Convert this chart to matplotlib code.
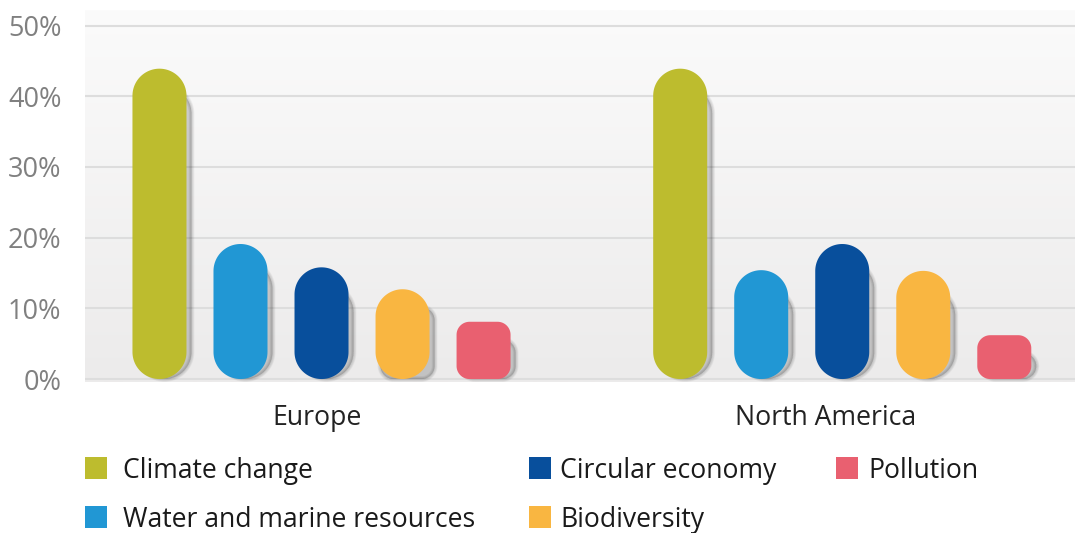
import numpy as np
import matplotlib
matplotlib.use("Agg")
import matplotlib.pyplot as plt
from matplotlib.patches import Polygon, Rectangle
from matplotlib.colors import LinearSegmentedColormap
from matplotlib import transforms

# ---- data -------------------------------------------------------------
regions = ["Europe", "North America"]
topics = ["Climate change", "Water and marine resources", "Circular economy",
          "Biodiversity", "Pollution"]
europe = [43.9, 19.1, 15.8, 12.7, 8.1]
north_america = [43.9, 15.4, 19.1, 15.3, 6.2]
colors = ["#BDBC2E", "#2197D4", "#084F9C", "#F9B641", "#E96070"]
yticks = [0, 10, 20, 30, 40, 50]
ytick_labels = ["0%", "10%", "20%", "30%", "40%", "50%"]

plt.rcParams["font.family"] = ["Open Sans", "DejaVu Sans"]

W, H = 1075, 533
fig = plt.figure(figsize=(W / 100, H / 100), dpi=100)


def fx(px):
    return px / W


def fy(py):
    return 1 - py / H


ax = fig.add_axes([fx(85), fy(382), fx(1075) - fx(85), fy(10) - fy(382)])

# soft vertical gradient behind the bars
bg = LinearSegmentedColormap.from_list("bg", ["#ecebeb", "#fbfbfb"])
ax.imshow(np.linspace(0, 1, 256).reshape(-1, 1), extent=[0, 1, 0, 1],
          transform=ax.transAxes, cmap=bg, aspect="auto", origin="lower",
          zorder=0, interpolation="bilinear")
ax.set_xlim(-0.4542, 1.447)
ax.set_ylim(-0.42, 52.2)

for v in yticks:
    ax.axhline(v, color="#dddddd", lw=1.5, zorder=1)

for s in ax.spines.values():
    s.set_visible(False)
ax.set_yticks(yticks)
ax.set_yticklabels(ytick_labels)
ax.tick_params(axis="y", length=0, pad=17, labelsize=19.5, labelcolor="#808080")
ax.set_xticks([0, 1])
ax.set_xticklabels(regions)
ax.tick_params(axis="x", length=0, pad=16, labelsize=19.2, labelcolor="#222222")
# nudge the region labels slightly left of their bar groups
for lab, dx in zip(ax.get_xticklabels(), [-4, -17]):
    lab.set_transform(lab.get_transform() +
                      transforms.ScaledTranslation(dx / 100, 0, fig.dpi_scale_trans))

bar_w = 0.1037
step = 0.1556


def px_scale():
    p0 = ax.transData.transform((0, 0))
    p1 = ax.transData.transform((1, 1))
    return p1 - p0


def pill_vertices(xc, w, v, n=30):
    sx, sy = px_scale()
    w_px, h_px = w * sx, v * sy
    r_px = w_px / 2 if h_px >= 1.5 * w_px else 13
    rx, ry = r_px / sx, r_px / sy
    x0, x1 = xc - w / 2, xc + w / 2
    t = np.linspace(0, np.pi / 2, n)
    pts = []
    for cx, cy, a0 in [(x1 - rx, ry, -np.pi / 2), (x1 - rx, v - ry, 0),
                       (x0 + rx, v - ry, np.pi / 2), (x0 + rx, ry, np.pi)]:
        a = a0 + t
        pts.append(np.column_stack([cx + rx * np.cos(a), cy + ry * np.sin(a)]))
    return np.vstack(pts)


# shadow sits a few pixels to the right and starts lower than the bar top
shadow_tr = transforms.offset_copy(ax.transData, fig=fig, x=5, y=0, units="dots")
shadow_drop = 18 / px_scale()[1]

for gi, values in enumerate([europe, north_america]):
    for j, (val, col) in enumerate(zip(values, colors)):
        xc = gi + (j - 2) * step
        sh_verts = pill_vertices(xc, bar_w, val - shadow_drop)
        for k in range(5):
            ax.add_patch(Polygon(sh_verts, closed=True, transform=shadow_tr,
                                 facecolor=(0, 0, 0, 0.035),
                                 edgecolor=(0, 0, 0, 0.035),
                                 lw=(5 - k) * 0.85, joinstyle="round",
                                 zorder=2))
        ax.add_patch(Polygon(pill_vertices(xc, bar_w, val), closed=True,
                             facecolor=col, edgecolor="none", zorder=3))

# legend laid out in three columns beneath the plot
legend_cols = [(85, 122.7), (529, 560), (836, 868)]
legend_rows = [468, 517]
for i, (name, col) in enumerate(zip(topics, colors)):
    c, r = divmod(i, 2)
    sq_x, tx = legend_cols[c]
    cy = legend_rows[r]
    fig.add_artist(Rectangle((fx(sq_x), fy(cy + 11)), fx(22), fy(0) - fy(22),
                             transform=fig.transFigure, facecolor=col,
                             edgecolor="none"))
    fig.text(fx(tx), fy(cy + 10.3), name, fontsize=19.1, color="#1a1a1a",
             va="baseline", ha="left")

fig.savefig("out.png", dpi=100)
